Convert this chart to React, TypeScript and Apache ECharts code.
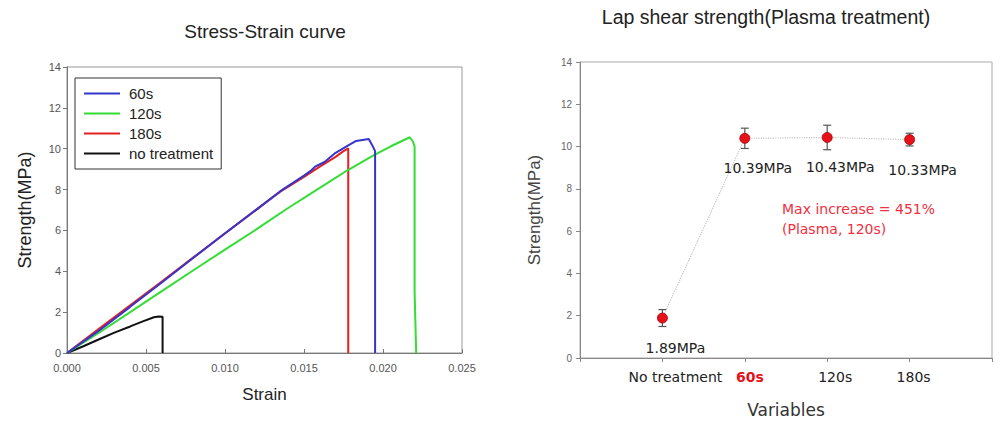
import React, { useEffect, useRef } from "react";
import * as echarts from "echarts";

// ---------- Left chart: stress-strain curves (strain, MPa) ----------
const curve60s: [number, number][] = [
  [0, 0], [0.002, 1.08], [0.004, 2.26], [0.006, 3.45], [0.008, 4.66], [0.010, 5.86],
  [0.012, 7.03], [0.0135, 7.92], [0.015, 8.68], [0.0154, 8.9], [0.0157, 9.12],
  [0.0163, 9.35], [0.017, 9.8], [0.0178, 10.16], [0.0183, 10.38], [0.0191, 10.47],
  [0.0193, 10.2], [0.0195, 9.88], [0.0195, 0],
];
const curve120s: [number, number][] = [
  [0, 0], [0.002, 0.98], [0.004, 2.0], [0.006, 3.03], [0.008, 4.05], [0.010, 5.06],
  [0.012, 6.06], [0.0139, 7.05], [0.016, 8.08], [0.0177, 8.92], [0.0194, 9.67],
  [0.0205, 10.12], [0.0217, 10.56], [0.0219, 10.34], [0.0220, 10.1], [0.0220, 3.0],
  [0.0221, 0],
];
const curve180s: [number, number][] = [
  [0, 0], [0.002, 1.17], [0.004, 2.34], [0.006, 3.5], [0.008, 4.68], [0.010, 5.85],
  [0.012, 7.02], [0.0128, 7.49], [0.0135, 7.9], [0.015, 8.62], [0.016, 9.12],
  [0.017, 9.6], [0.0175, 9.88], [0.0178, 10.02], [0.0178, 0],
];
const curveNoTreatment: [number, number][] = [
  [0, 0], [0.001, 0.32], [0.002, 0.66], [0.003, 1.0], [0.004, 1.3], [0.0048, 1.55],
  [0.0055, 1.75], [0.0058, 1.79], [0.00605, 1.78], [0.00605, 0],
];
const curveNames = ["60s", "120s", "180s", "no treatment"];
const curveColors = ["#3535cc", "#33dd33", "#e42020", "#111111"];

// ---------- Right chart: lap shear strength ----------
const variableNames = ["No treatment", "60s", "120s", "180s"];
const variablePos = [1, 2, 3, 4];
const meanStrength = [1.89, 10.39, 10.43, 10.33];
const errStrength = [0.4, 0.48, 0.58, 0.3];
const strengthLabels = ["1.89MPa", "10.39MPa", "10.43MPa", "10.33MPa"];
const annotationLines = ["Max increase = 451%", "(Plasma, 120s)"];

const SANS = "Liberation Sans, Arial, sans-serif";
const DV = "DejaVu Sans, Verdana, sans-serif";

export default function App() {
  const ref = useRef<HTMLDivElement>(null);

  useEffect(() => {
    document.body.style.margin = "0";
    if (!ref.current) return;
    const chart = echarts.init(ref.current, undefined, { renderer: "svg" });

    const curves = [curve60s, curve120s, curve180s, curveNoTreatment];
    const labelPad = [26, 10, 16, 8];

    const option: any = {
      animation: false,
      backgroundColor: "#ffffff",
      title: [
        {
          text: "Stress-Strain curve",
          left: 265,
          top: 22,
          textAlign: "center",
          padding: 0,
          textStyle: { fontFamily: SANS, fontSize: 19, fontWeight: "normal", color: "#222" },
        },
        {
          text: "Lap shear strength(Plasma treatment)",
          left: 766,
          top: 7,
          textAlign: "center",
          padding: 0,
          textStyle: { fontFamily: SANS, fontSize: 19.5, fontWeight: "normal", color: "#222" },
        },
      ],
      legend: {
        data: curveNames,
        orient: "vertical",
        left: 75,
        top: 78,
        padding: [8, 8, 8, 8],
        itemWidth: 36,
        itemHeight: 14,
        itemGap: 5,
        itemStyle: { opacity: 0 },
        borderColor: "#333",
        borderWidth: 1,
        textStyle: { fontFamily: SANS, fontSize: 15, color: "#222", padding: [0, 0, 0, 4] },
      },
      grid: [
        { left: 67, top: 67, width: 395, height: 286, show: true, borderColor: "#999", borderWidth: 1 },
        { left: 580, top: 62, width: 412, height: 296, show: true, borderColor: "#aaa", borderWidth: 1 },
      ],
      xAxis: [
        {
          gridIndex: 0,
          type: "value",
          min: 0,
          max: 0.025,
          interval: 0.005,
          name: "Strain",
          nameLocation: "middle",
          nameGap: 33,
          nameTextStyle: { fontFamily: SANS, fontSize: 17, color: "#222" },
          axisLine: { show: true, lineStyle: { color: "#777" } },
          axisTick: { show: true, inside: true, length: 4, lineStyle: { color: "#777" } },
          axisLabel: {
            fontFamily: SANS,
            fontSize: 11,
            color: "#555",
            margin: 9,
            formatter: (v: number) => v.toFixed(3),
          },
          splitLine: { show: false },
        },
        {
          gridIndex: 1,
          type: "value",
          min: 0,
          max: 5,
          interval: 1,
          name: "Variables",
          nameLocation: "middle",
          nameGap: 43,
          nameTextStyle: { fontFamily: DV, fontSize: 17, color: "#333" },
          axisLine: { show: true, lineStyle: { color: "#888" } },
          axisTick: { show: true, length: 4, lineStyle: { color: "#888" } },
          axisLabel: {
            fontFamily: DV,
            fontSize: 14,
            color: "#222",
            margin: 12,
            showMinLabel: true,
            showMaxLabel: true,
            formatter: (v: number) => {
              const i = variablePos.indexOf(v);
              if (i < 0) return "";
              return `{c${i}|${variableNames[i]}}`;
            },
            rich: {
              c0: { fontFamily: DV, fontSize: 14, color: "#222", padding: [0, 0, 0, labelPad[0]] },
              c1: { fontFamily: DV, fontSize: 14, color: "#e8101a", fontWeight: "bold", padding: [0, 0, 0, labelPad[1]] },
              c2: { fontFamily: DV, fontSize: 14, color: "#222", padding: [0, 0, 0, labelPad[2]] },
              c3: { fontFamily: DV, fontSize: 14, color: "#222", padding: [0, 0, 0, labelPad[3]] },
            },
          },
          splitLine: { show: false },
        },
      ],
      yAxis: [
        {
          gridIndex: 0,
          type: "value",
          min: 0,
          max: 14,
          interval: 2,
          name: "Strength(MPa)",
          nameLocation: "middle",
          nameGap: 33,
          nameTextStyle: { fontFamily: SANS, fontSize: 18, color: "#222" },
          axisLine: { show: true, lineStyle: { color: "#777" } },
          axisTick: { show: true, length: 4, lineStyle: { color: "#777" } },
          axisLabel: { fontFamily: SANS, fontSize: 11, color: "#555", margin: 6 },
          splitLine: { show: false },
        },
        {
          gridIndex: 1,
          type: "value",
          min: 0,
          max: 14,
          interval: 2,
          name: "Strength(MPa)",
          nameLocation: "middle",
          nameGap: 37,
          nameTextStyle: { fontFamily: SANS, fontSize: 17, color: "#444" },
          axisLine: { show: true, lineStyle: { color: "#888" } },
          axisTick: { show: true, length: 4, lineStyle: { color: "#888" } },
          axisLabel: { fontFamily: SANS, fontSize: 10, color: "#666", margin: 8 },
          splitLine: { show: false },
        },
      ],
      series: [
        ...curves.map((c, i) => ({
          name: curveNames[i],
          type: "line",
          xAxisIndex: 0,
          yAxisIndex: 0,
          data: c,
          symbol: "none",
          color: curveColors[i],
          lineStyle: { color: curveColors[i], width: 2 },
          z: 10 - i,
        })),
        {
          name: "errorbars",
          type: "custom",
          xAxisIndex: 1,
          yAxisIndex: 1,
          data: variablePos.map((x, i) => [x, meanStrength[i], errStrength[i]]),
          encode: { x: 0, y: 1 },
          z: 3,
          renderItem: (_params: any, api: any) => {
            const x = api.value(0);
            const m = api.value(1);
            const e = api.value(2);
            const top = api.coord([x, m + e]);
            const bot = api.coord([x, m - e]);
            const cap = 4;
            const st = { stroke: "#555", lineWidth: 1.2 };
            return {
              type: "group",
              children: [
                { type: "line", shape: { x1: top[0], y1: top[1], x2: bot[0], y2: bot[1] }, style: st },
                { type: "line", shape: { x1: top[0] - cap, y1: top[1], x2: top[0] + cap, y2: top[1] }, style: st },
                { type: "line", shape: { x1: bot[0] - cap, y1: bot[1], x2: bot[0] + cap, y2: bot[1] }, style: st },
              ],
            };
          },
        },
        {
          name: "strength",
          type: "line",
          xAxisIndex: 1,
          yAxisIndex: 1,
          data: variablePos.map((x, i) => [x, meanStrength[i]]),
          symbol: "circle",
          symbolSize: 10,
          z: 5,
          itemStyle: { color: "#e8101a", borderColor: "#a00000", borderWidth: 0.8 },
          lineStyle: { color: "#c4c4c4", width: 1.2, type: "dotted" },
          label: {
            show: true,
            position: "inside",
            offset: [13, 30],
            fontFamily: DV,
            fontSize: 14,
            color: "#222",
            formatter: (p: any) => strengthLabels[p.dataIndex],
          },
        },
      ],
      graphic: [
        {
          type: "text",
          left: 782,
          top: 199,
          style: {
            text: annotationLines.join("\n"),
            fontFamily: DV,
            fontSize: 14,
            lineHeight: 20,
            fill: "#f03040",
          },
        },
      ],
    };

    chart.setOption(option);
    return () => chart.dispose();
  }, []);

  return <div ref={ref} style={{ width: 1005, height: 427 }} />;
}
